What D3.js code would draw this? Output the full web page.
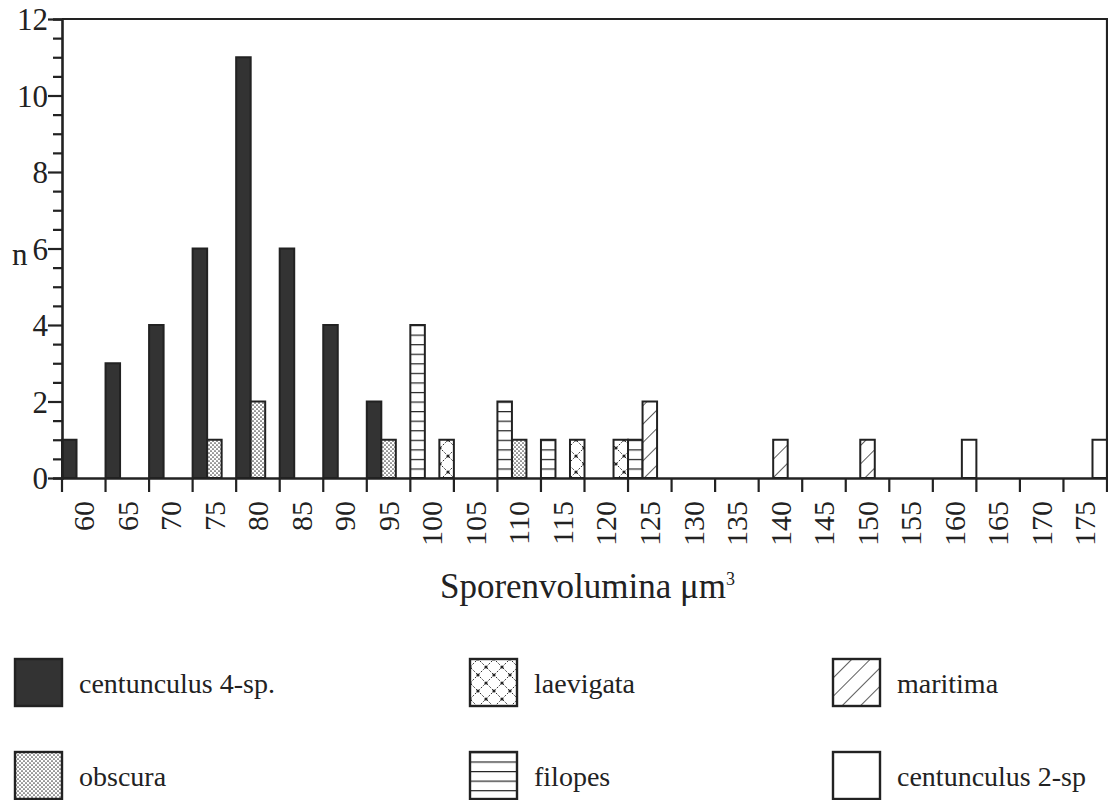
<!DOCTYPE html>
<html>
<head>
<meta charset="utf-8">
<script src="https://cdn.jsdelivr.net/npm/d3@7"></script>
<style>
  body { margin: 0; background: #fff; }
  svg { font-family: "Palatino Linotype", Palatino, "Liberation Serif", serif; }
</style>
</head>
<body>
<svg id="chart" width="1108" height="800"></svg>
<script>
// bins of spore volume (µm3)
var bins = [60, 65, 70, 75, 80, 85, 90, 95, 100, 105, 110, 115, 120, 125,
            130, 135, 140, 145, 150, 155, 160, 165, 170, 175];

// counts per species, keyed by bin
var centunculus4 = [[60, 1], [65, 3], [70, 4], [75, 6], [80, 11], [85, 6], [90, 4], [95, 2]];
var obscura = [[75, 1], [80, 2], [95, 1], [110, 1]];
var laevigata = [[100, 1], [115, 1], [120, 1]];
var filopes = [[100, 4], [110, 2], [115, 1], [125, 1]];
var maritima = [[125, 2], [140, 1], [150, 1]];
var centunculus2 = [[160, 1], [175, 1]];

var seriesNames = ["centunculus 4-sp.", "obscura", "laevigata", "filopes", "maritima", "centunculus 2-sp"];
var seriesData = [centunculus4, obscura, laevigata, filopes, maritima, centunculus2];
// which of the three slots inside a bin each species uses
var seriesSlot = [0, 1, 2, 0, 1, 2];
var seriesFill = ["#333", "url(#pObscura)", "url(#pLaevigata)", "url(#pFilopes)", "url(#pMaritima)", "#fff"];

var yTicks = [0, 2, 4, 6, 8, 10, 12];

var mLeft = 62, mRight = 1107, mTop = 19, mBottom = 478;
var ink = "#222";

var svg = d3.select("#chart");

var x = d3.scaleBand()
    .domain(bins)
    .range([mLeft, mRight])
    .padding(0);

var slot = d3.scaleBand()
    .domain([0, 1, 2])
    .range([0, x.bandwidth()]);

var y = d3.scaleLinear()
    .domain([0, 12])
    .range([mBottom, mTop]);

// patterns
var defs = svg.append("defs");

var p = defs.append("pattern").attr("id", "pObscura")
    .attr("patternUnits", "userSpaceOnUse").attr("width", 4).attr("height", 4);
p.append("rect").attr("width", 4).attr("height", 4).attr("fill", "#fff");
p.append("circle").attr("cx", 1).attr("cy", 1).attr("r", 0.85).attr("fill", "#444");
p.append("circle").attr("cx", 3).attr("cy", 3).attr("r", 0.85).attr("fill", "#444");

var lv = 16;
p = defs.append("pattern").attr("id", "pLaevigata")
    .attr("patternUnits", "userSpaceOnUse").attr("width", lv).attr("height", lv);
p.append("rect").attr("width", lv).attr("height", lv).attr("fill", "#fff");
p.append("path")
    .attr("d", "M0," + lv / 2 + "L" + lv / 2 + ",0L" + lv + "," + lv / 2 + "L" + lv / 2 + "," + lv + "Z")
    .attr("fill", "none").attr("stroke", "#333").attr("stroke-width", 1)
    .attr("stroke-dasharray", "2,1.5");
[[0, lv / 2], [lv / 2, 0], [lv, lv / 2], [lv / 2, lv]].forEach(function(c) {
  p.append("circle").attr("cx", c[0]).attr("cy", c[1]).attr("r", 1.6).attr("fill", "#222");
});

var fh = y(0) - y(0.25);
p = defs.append("pattern").attr("id", "pFilopes")
    .attr("patternUnits", "userSpaceOnUse").attr("width", 10).attr("height", fh)
    .attr("patternTransform", "translate(0," + (mBottom % fh) + ")");
p.append("rect").attr("width", 10).attr("height", fh).attr("fill", "#fff");
p.append("line").attr("x1", 0).attr("x2", 10).attr("y1", 0).attr("y2", 0)
    .attr("stroke", ink).attr("stroke-width", 2.4);

p = defs.append("pattern").attr("id", "pMaritima")
    .attr("patternUnits", "userSpaceOnUse").attr("width", 13).attr("height", 13)
    .attr("patternTransform", "rotate(45)");
p.append("rect").attr("width", 13).attr("height", 13).attr("fill", "#fff");
p.append("line").attr("x1", 0).attr("x2", 0).attr("y1", 0).attr("y2", 13)
    .attr("stroke", "#333").attr("stroke-width", 1.6);

// bars
seriesData.forEach(function(data, i) {
  svg.append("g").selectAll("rect")
    .data(data)
    .enter().append("rect")
      .attr("x", function(d) { return x(d[0]) + slot(seriesSlot[i]); })
      .attr("y", function(d) { return y(d[1]); })
      .attr("width", slot.bandwidth())
      .attr("height", function(d) { return y(0) - y(d[1]); })
      .attr("fill", seriesFill[i])
      .attr("stroke", ink)
      .attr("stroke-width", 2);
});

// frame (top and right)
svg.append("path")
    .attr("d", "M" + mLeft + "," + mTop + "H" + mRight + "V" + mBottom)
    .attr("fill", "none").attr("stroke", ink).attr("stroke-width", 2.2);

// y axis with half-unit minor ticks
var yAxis = svg.append("g")
    .attr("transform", "translate(" + mLeft + ",0)")
    .call(d3.axisLeft(y).tickValues(d3.range(0, 12.01, 0.5)).tickSize(9)
      .tickFormat(function(d) { return yTicks.indexOf(d) >= 0 ? d : ""; }))
    .attr("font-family", null)
    .attr("font-size", null);
yAxis.select(".domain").attr("stroke", ink).attr("stroke-width", 2.6);
yAxis.selectAll(".tick line").attr("stroke", ink).attr("stroke-width", 2.2)
    .attr("x2", function(d) { return yTicks.indexOf(d) >= 0 ? -14 : -9; });
yAxis.selectAll(".tick text")
    .attr("x", -14)
    .attr("dy", "0.34em")
    .attr("fill", ink)
    .style("font-size", "31px");

svg.append("text")
    .attr("x", 12).attr("y", y(6) + 16)
    .attr("fill", ink)
    .style("font-size", "31px")
    .text("n");

// x axis: labels at bin centres, ticks at bin edges
var xAxis = svg.append("g")
    .attr("transform", "translate(0," + mBottom + ")")
    .call(d3.axisBottom(x).tickSize(0).tickPadding(0))
    .attr("font-family", null)
    .attr("font-size", null);
xAxis.select(".domain").attr("stroke", ink).attr("stroke-width", 2.6);
xAxis.selectAll(".tick text")
    .attr("transform", "rotate(-90)")
    .attr("text-anchor", "end")
    .attr("x", -23)
    .attr("y", 0)
    .attr("dy", "0.34em")
    .attr("fill", ink)
    .style("font-size", "30px");

var edges = bins.map(function(b) { return x(b); }).concat([x.range()[1]]);
xAxis.selectAll(".edge")
    .data(edges)
    .enter().append("line")
      .attr("class", "edge")
      .attr("x1", function(d) { return d; })
      .attr("x2", function(d) { return d; })
      .attr("y1", 0)
      .attr("y2", 14)
      .attr("stroke", ink)
      .attr("stroke-width", 2.2);

var title = svg.append("text")
    .attr("x", (mLeft + mRight) / 2 + 3)
    .attr("y", 598)
    .attr("text-anchor", "middle")
    .attr("fill", ink)
    .style("font-size", "35px");
title.append("tspan").text("Sporenvolumina μm");
title.append("tspan").attr("dy", -13).style("font-size", "18px").text("3");

// legend
var legendCols = [15, 470, 833];
var legendRows = [659, 752];
seriesNames.forEach(function(name, i) {
  var lx = legendCols[Math.floor(i / 2)];
  var ly = legendRows[i % 2];
  var g = svg.append("g").attr("transform", "translate(" + lx + "," + ly + ")");
  g.append("rect")
      .attr("width", 47).attr("height", 47)
      .attr("fill", seriesFill[i])
      .attr("stroke", ink).attr("stroke-width", 2.4);
  g.append("text")
      .attr("x", 64).attr("y", 34)
      .attr("fill", ink)
      .style("font-size", "28px")
      .text(name);
});
</script>
</body>
</html>
